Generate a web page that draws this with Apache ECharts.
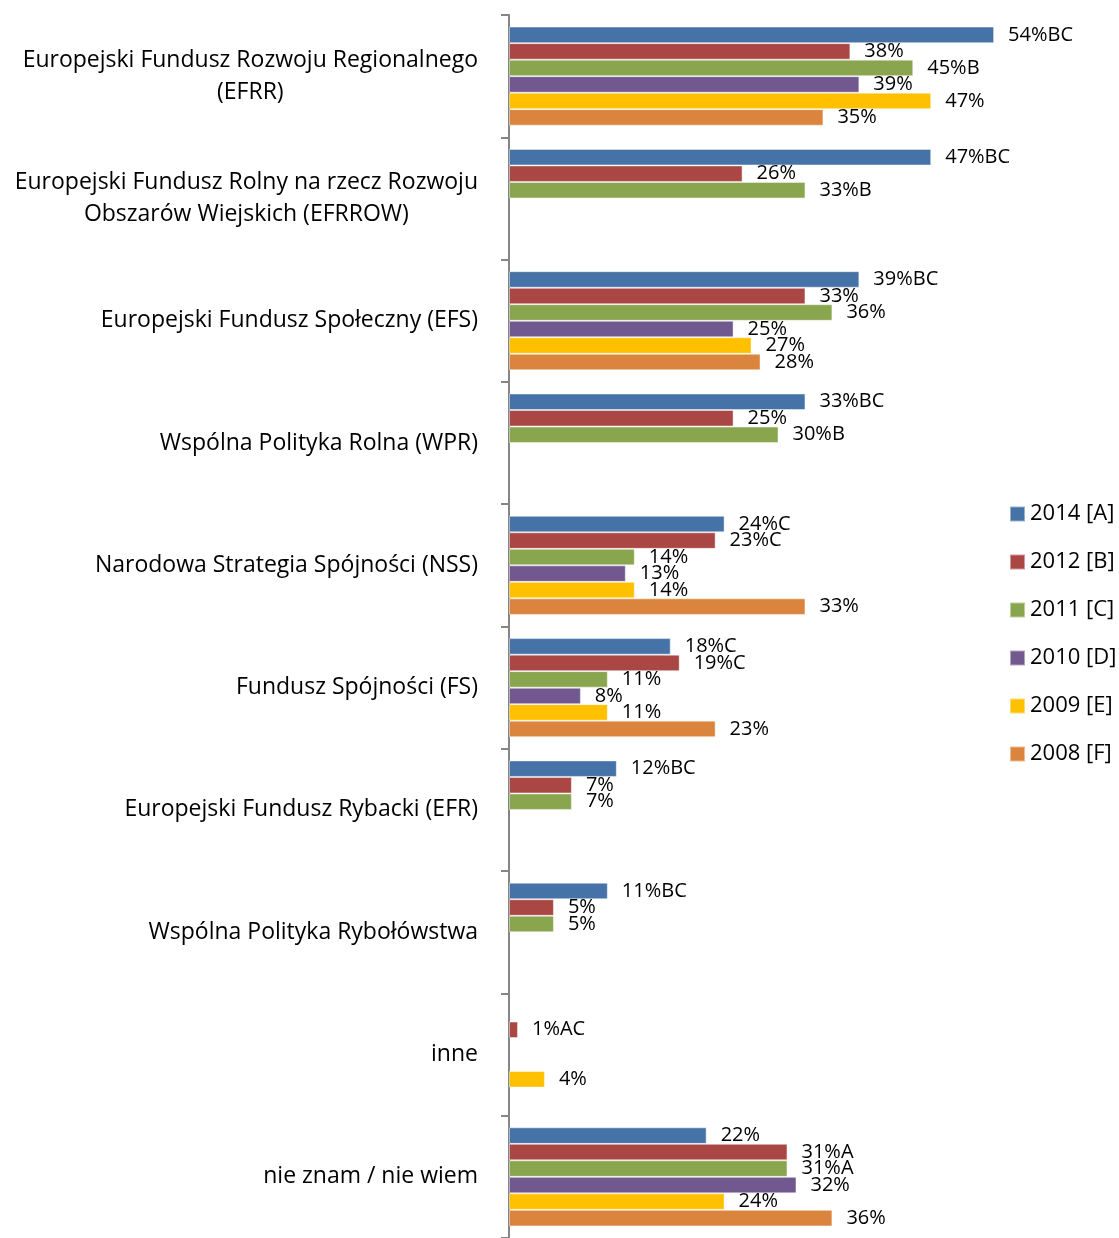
<!DOCTYPE html>
<html>
<head>
<meta charset="utf-8">
<script src="https://cdn.jsdelivr.net/npm/echarts@6/dist/echarts.min.js"></script>
<style>
html, body { margin: 0; padding: 0; background: #fff; }
#chart { width: 1119px; height: 1238px; }
</style>
</head>
<body>
<div id="chart"></div>
<script>
var categories = [
  "Europejski Fundusz Rozwoju Regionalnego\n(EFRR)",
  "Europejski Fundusz Rolny na rzecz Rozwoju\nObszarów Wiejskich (EFRROW)",
  "Europejski Fundusz Społeczny (EFS)",
  "Wspólna Polityka Rolna (WPR)",
  "Narodowa Strategia Spójności (NSS)",
  "Fundusz Spójności (FS)",
  "Europejski Fundusz Rybacki (EFR)",
  "Wspólna Polityka Rybołówstwa",
  "inne",
  "nie znam / nie wiem"
];
var seriesNames = ["2014 [A]", "2012 [B]", "2011 [C]", "2010 [D]", "2009 [E]", "2008 [F]"];
var v2014 = [54, 47, 39, 33, 24, 18, 12, 11, null, 22];
var v2012 = [38, 26, 33, 25, 23, 19, 7, 5, 1, 31];
var v2011 = [45, 33, 36, 30, 14, 11, 7, 5, null, 31];
var v2010 = [39, null, 25, null, 13, 8, null, null, null, 32];
var v2009 = [47, null, 27, null, 14, 11, null, null, 4, 24];
var v2008 = [35, null, 28, null, 33, 23, null, null, null, 36];
// litery istotnych roznic dopisane do etykiet
var t2014 = ["BC", "BC", "BC", "BC", "C", "C", "BC", "BC", "", ""];
var t2012 = ["", "", "", "", "C", "C", "", "", "AC", "A"];
var t2011 = ["B", "B", "", "B", "", "", "", "", "", "A"];
var t2010 = ["", "", "", "", "", "", "", "", "", ""];
var t2009 = ["", "", "", "", "", "", "", "", "", ""];
var t2008 = ["", "", "", "", "", "", "", "", "", ""];
var colors = ["#4572A7", "#AA4643", "#89A54E", "#71588F", "#FFC000", "#DB843D"];

var values = [v2014, v2012, v2011, v2010, v2009, v2008];
var tags = [t2014, t2012, t2011, t2010, t2009, t2008];
var font = "'Open Sans', sans-serif";

var chart = echarts.init(document.getElementById("chart"));

var series = values.map(function (vals, i) {
  return {
    name: seriesNames[i],
    type: "bar",
    data: vals,
    barGap: "0%",
    barCategoryGap: "19%",
    itemStyle: {
      color: colors[i],
      borderColor: "rgba(255,255,255,0.45)",
      borderWidth: 1
    },
    label: {
      show: true,
      position: "right",
      distance: 14,
      color: "#000",
      fontFamily: font,
      fontSize: 20,
      formatter: function (p) {
        return p.value + "%" + tags[i][p.dataIndex];
      }
    }
  };
});

chart.setOption({
  animation: false,
  color: colors,
  grid: { left: 509, right: 71, top: 15, bottom: 0, containLabel: false },
  legend: {
    data: seriesNames,
    orient: "vertical",
    left: 1004,
    top: 498,
    icon: "rect",
    itemWidth: 15,
    itemHeight: 15,
    itemGap: 26,
    textStyle: { fontFamily: font, fontSize: 22, color: "#000", lineHeight: 22 }
  },
  xAxis: {
    type: "value",
    min: 0,
    max: 60,
    show: false
  },
  yAxis: {
    type: "category",
    inverse: true,
    data: categories,
    axisLine: { lineStyle: { color: "#868686", width: 2 } },
    axisTick: { show: true, interval: 0, length: 8, lineStyle: { color: "#868686", width: 2 } },
    axisLabel: {
      interval: 0,
      margin: 31,
      color: "#000",
      fontFamily: font,
      fontSize: 23,
      lineHeight: 32,
      formatter: function (v) {
        return v.split("\n").map(function (s) { return "{c|" + s + "}"; }).join("\n");
      },
      rich: {
        c: { align: "center", fontFamily: font, fontSize: 23, lineHeight: 32, color: "#000" }
      }
    }
  },
  series: series
});
</script>
</body>
</html>
